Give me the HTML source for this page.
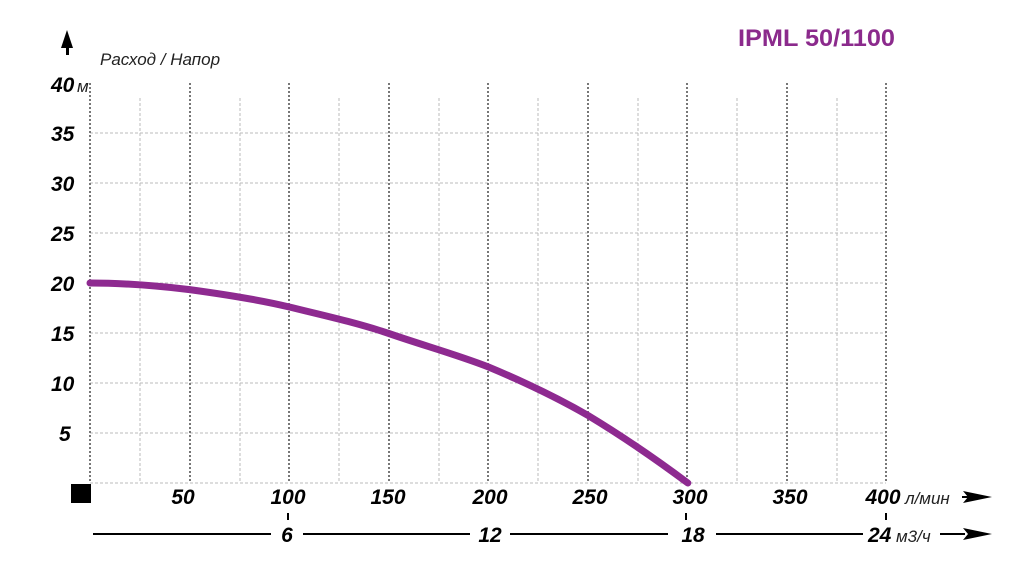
<!DOCTYPE html>
<html><head><meta charset="utf-8"><style>
body{margin:0;background:#fff;width:1024px;height:561px;overflow:hidden}
svg{display:block}
.b{font-family:"Liberation Sans",sans-serif;font-weight:bold;font-style:italic;font-size:21px;fill:#000}
.i{font-family:"Liberation Sans",sans-serif;font-style:italic;font-size:17px;fill:#222}
</style></head><body>
<svg width="1024" height="561" viewBox="0 0 1024 561">
<g stroke="#bbb" stroke-width="1" stroke-dasharray="3,2">
<line x1="90" y1="133" x2="886" y2="133"/><line x1="90" y1="183" x2="886" y2="183"/>
<line x1="90" y1="233" x2="886" y2="233"/><line x1="90" y1="283" x2="886" y2="283"/>
<line x1="90" y1="333" x2="886" y2="333"/><line x1="90" y1="383" x2="886" y2="383"/>
<line x1="90" y1="433" x2="886" y2="433"/><line x1="90" y1="483" x2="886" y2="483"/>
<line x1="140" y1="98" x2="140" y2="483"/><line x1="240" y1="98" x2="240" y2="483"/>
<line x1="339" y1="98" x2="339" y2="483"/><line x1="439" y1="98" x2="439" y2="483"/>
<line x1="538" y1="98" x2="538" y2="483"/><line x1="638" y1="98" x2="638" y2="483"/>
<line x1="737" y1="98" x2="737" y2="483"/><line x1="837" y1="98" x2="837" y2="483"/>
</g>
<g stroke="#777" stroke-width="2" stroke-dasharray="2,2">
<line x1="90" y1="83" x2="90" y2="483"/><line x1="190" y1="83" x2="190" y2="483"/>
<line x1="289" y1="83" x2="289" y2="483"/><line x1="389" y1="83" x2="389" y2="483"/>
<line x1="488" y1="83" x2="488" y2="483"/><line x1="588" y1="83" x2="588" y2="483"/>
<line x1="687" y1="83" x2="687" y2="483"/><line x1="787" y1="83" x2="787" y2="483"/>
<line x1="886" y1="83" x2="886" y2="483"/>
</g>
<polyline points="90,283 110,282.7 130,283 150,283.9 170,285.3 190,287.3 210,289.9 230,293 250,296.7 270,301 290,305.8 310,311.2 330,317.2 350,323.7 370,330.8 390,338.5 410,346.7 430,355.6 450,364.9 470,374.9 490,385.4 510,396.5 530,408.2 550,420.4 570,433.2 590,446.6 610,460.6 630,475.1 645,483" fill="none" stroke="none"/>
<path d="M90,283 C120,283 155,285.5 189.6,289.6 C222,294 258,299.5 289.3,307 C322,315 356,322.5 388.9,333.5 C422,345 458,355 488.5,367 C522,381 556,397 588.1,415.5 C622,436 657,460 687.8,483" fill="none" stroke="#8e2a90" stroke-width="7" stroke-linecap="round"/>
<polygon points="67,30 73,48 61,48" fill="#000"/><rect x="66" y="45" width="3" height="10" fill="#000"/>
<text x="100" y="65" class="i" font-size="19">Расход / Напор</text>
<text x="51" y="92" class="b">40</text><text x="77" y="92" class="i">м</text>
<text x="51" y="141" class="b">35</text><text x="51" y="191" class="b">30</text>
<text x="51" y="241" class="b">25</text><text x="51" y="291" class="b">20</text>
<text x="51" y="341" class="b">15</text><text x="51" y="391" class="b">10</text>
<text x="59" y="441" class="b">5</text>
<rect x="71" y="484" width="20" height="19" fill="#000"/>
<g text-anchor="middle">
<text x="183" y="504" class="b">50</text><text x="288" y="504" class="b">100</text>
<text x="388" y="504" class="b">150</text><text x="490" y="504" class="b">200</text>
<text x="590" y="504" class="b">250</text><text x="690" y="504" class="b">300</text>
<text x="790" y="504" class="b">350</text><text x="883" y="504" class="b">400</text>
</g>
<text x="905" y="504" class="i">л/мин</text>
<polygon points="963,491 992,497 963,503 968,497" fill="#000"/><line x1="962" y1="497" x2="975" y2="497" stroke="#000" stroke-width="2"/>
<g stroke="#000" stroke-width="2">
<line x1="288" y1="513" x2="288" y2="520"/><line x1="686" y1="513" x2="686" y2="520"/><line x1="886" y1="513" x2="886" y2="520"/>
<line x1="93" y1="534" x2="271" y2="534"/><line x1="303" y1="534" x2="470" y2="534"/>
<line x1="510" y1="534" x2="668" y2="534"/><line x1="716" y1="534" x2="863" y2="534"/>
<line x1="940" y1="534" x2="965" y2="534"/>
</g>
<polygon points="963,528 992,534 963,540 968,534" fill="#000"/>
<g text-anchor="middle">
<text x="287" y="542" class="b">6</text><text x="490" y="542" class="b">12</text>
<text x="693" y="542" class="b">18</text>
</g>
<text x="868" y="542" class="b">24</text><text x="896" y="542" class="i">м3/ч</text>
<text x="738" y="46" font-family="Liberation Sans,sans-serif" font-weight="bold" font-size="24" fill="#8b2a8c" textLength="157" lengthAdjust="spacingAndGlyphs">IPML 50/1100</text>
</svg>
</body></html>
